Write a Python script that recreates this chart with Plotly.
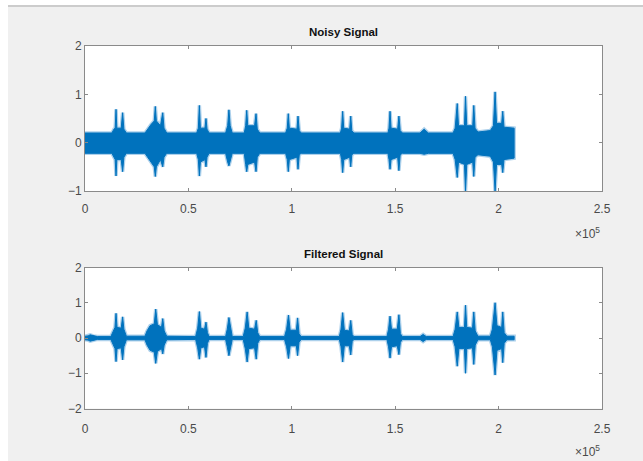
import plotly.graph_objects as go

# ---- data (x in units of 1e5 samples) ----
SCALE = 1e5

noisy_x = [0.000, 0.130, 0.140, 0.146, 0.150, 0.154, 0.175, 0.182, 0.188, 0.200,
           0.290, 0.305, 0.320, 0.335, 0.340, 0.345, 0.365, 0.376, 0.382, 0.395,
           0.540, 0.548, 0.553, 0.558, 0.580, 0.585, 0.590, 0.600,
           0.680, 0.690, 0.696, 0.702, 0.712,
           0.770, 0.777, 0.782, 0.787, 0.820, 0.827, 0.833, 0.845,
           0.970, 0.978, 0.983, 0.988, 1.025, 1.030, 1.036, 1.045,
           1.235, 1.241, 1.246, 1.251, 1.280, 1.285, 1.290, 1.300,
           1.465, 1.470, 1.475, 1.480, 1.512, 1.518, 1.524, 1.535,
           1.620, 1.640, 1.660,
           1.780, 1.790, 1.800, 1.806, 1.835, 1.840, 1.846, 1.875, 1.880, 1.886, 1.900,
           1.960, 1.975, 1.983, 1.990, 2.015, 2.020, 2.026, 2.075]
noisy_hi = [0.20, 0.20, 0.28, 0.30, 0.69, 0.30, 0.30, 0.62, 0.28, 0.20,
            0.20, 0.30, 0.38, 0.45, 0.75, 0.45, 0.35, 0.62, 0.30, 0.20,
            0.20, 0.30, 0.77, 0.30, 0.30, 0.50, 0.28, 0.20,
            0.20, 0.35, 0.68, 0.35, 0.20,
            0.20, 0.35, 0.67, 0.35, 0.35, 0.60, 0.28, 0.20,
            0.20, 0.30, 0.60, 0.30, 0.28, 0.55, 0.25, 0.20,
            0.20, 0.30, 0.65, 0.30, 0.28, 0.55, 0.25, 0.20,
            0.20, 0.30, 0.65, 0.30, 0.28, 0.55, 0.25, 0.20,
            0.20, 0.28, 0.20,
            0.20, 0.30, 0.81, 0.35, 0.35, 0.96, 0.35, 0.35, 0.77, 0.30, 0.22,
            0.25, 0.35, 1.05, 0.40, 0.40, 0.65, 0.32, 0.30]
noisy_lo = [-0.22, -0.22, -0.30, -0.35, -0.69, -0.35, -0.35, -0.60, -0.30, -0.22,
            -0.22, -0.30, -0.40, -0.50, -0.70, -0.50, -0.35, -0.50, -0.30, -0.22,
            -0.22, -0.35, -0.69, -0.40, -0.35, -0.50, -0.30, -0.22,
            -0.22, -0.40, -0.48, -0.40, -0.22,
            -0.22, -0.45, -0.60, -0.45, -0.40, -0.60, -0.30, -0.22,
            -0.22, -0.35, -0.60, -0.35, -0.30, -0.55, -0.25, -0.22,
            -0.22, -0.35, -0.62, -0.35, -0.30, -0.50, -0.25, -0.22,
            -0.22, -0.35, -0.55, -0.35, -0.30, -0.58, -0.25, -0.22,
            -0.22, -0.24, -0.22,
            -0.22, -0.35, -0.72, -0.40, -0.45, -1.00, -0.45, -0.40, -0.70, -0.30, -0.25,
            -0.28, -0.40, -1.00, -0.45, -0.45, -0.62, -0.35, -0.32]

filt_x = [0.000, 0.015, 0.025, 0.040, 0.060, 0.125, 0.135, 0.145, 0.150, 0.155, 0.175, 0.182, 0.188, 0.200,
          0.290, 0.300, 0.315, 0.335, 0.342, 0.350, 0.370, 0.376, 0.383, 0.395,
          0.535, 0.545, 0.553, 0.560, 0.578, 0.585, 0.592, 0.600,
          0.680, 0.688, 0.696, 0.704, 0.712,
          0.765, 0.775, 0.784, 0.792, 0.820, 0.828, 0.835, 0.845,
          0.965, 0.975, 0.984, 0.992, 1.022, 1.028, 1.035, 1.045,
          1.230, 1.238, 1.246, 1.254, 1.278, 1.285, 1.292, 1.300,
          1.460, 1.468, 1.475, 1.482, 1.510, 1.518, 1.525, 1.535,
          1.620, 1.635, 1.650,
          1.780, 1.790, 1.800, 1.808, 1.835, 1.840, 1.846, 1.874, 1.880, 1.887, 1.900,
          1.960, 1.970, 1.983, 1.992, 2.015, 2.020, 2.027, 2.040, 2.075]
filt_hi = [0.05, 0.06, 0.09, 0.06, 0.04, 0.04, 0.15, 0.30, 0.70, 0.30, 0.28, 0.60, 0.25, 0.05,
           0.05, 0.20, 0.35, 0.40, 0.82, 0.38, 0.30, 0.55, 0.20, 0.05,
           0.04, 0.28, 0.75, 0.28, 0.25, 0.45, 0.15, 0.04,
           0.04, 0.25, 0.58, 0.25, 0.04,
           0.04, 0.28, 0.74, 0.28, 0.25, 0.50, 0.15, 0.04,
           0.04, 0.25, 0.65, 0.22, 0.22, 0.57, 0.12, 0.04,
           0.04, 0.25, 0.72, 0.22, 0.20, 0.50, 0.10, 0.04,
           0.04, 0.25, 0.62, 0.25, 0.25, 0.66, 0.12, 0.04,
           0.04, 0.10, 0.04,
           0.04, 0.25, 0.74, 0.30, 0.30, 0.93, 0.30, 0.28, 0.74, 0.20, 0.05,
           0.05, 0.25, 1.00, 0.35, 0.30, 0.74, 0.15, 0.05, 0.05]
filt_lo = [-0.05, -0.06, -0.09, -0.06, -0.04, -0.04, -0.15, -0.30, -0.67, -0.30, -0.28, -0.62, -0.25, -0.05,
           -0.05, -0.20, -0.35, -0.40, -0.72, -0.38, -0.30, -0.45, -0.20, -0.05,
           -0.04, -0.28, -0.60, -0.28, -0.25, -0.55, -0.15, -0.04,
           -0.04, -0.25, -0.50, -0.25, -0.04,
           -0.04, -0.30, -0.68, -0.30, -0.28, -0.60, -0.15, -0.04,
           -0.04, -0.25, -0.58, -0.22, -0.22, -0.50, -0.12, -0.04,
           -0.04, -0.25, -0.68, -0.22, -0.22, -0.48, -0.10, -0.04,
           -0.04, -0.25, -0.57, -0.25, -0.22, -0.47, -0.12, -0.04,
           -0.04, -0.10, -0.04,
           -0.04, -0.25, -0.80, -0.30, -0.30, -1.00, -0.30, -0.28, -0.75, -0.20, -0.05,
           -0.05, -0.25, -1.05, -0.35, -0.30, -0.70, -0.15, -0.05, -0.05]

x_tickvals = [0, 0.5, 1, 1.5, 2, 2.5]
x_ticktext = ["0", "0.5", "1", "1.5", "2", "2.5"]
top_yticks = [-1, 0, 1, 2]
bot_yticks = [-2, -1, 0, 1, 2]
titles = ["Noisy Signal", "Filtered Signal"]

LINE_BLUE = "#0072BD"
HALO = "rgba(70,150,210,0.45)"
W, H = 643, 461


def band(xs, hi, lo):
    px = [v * SCALE for v in xs] + [v * SCALE for v in reversed(xs)]
    py = list(hi) + list(reversed(lo))
    return px, py


def sx(px):   # window pixel -> paper fraction (x)
    return px / W


def sy(py):   # window pixel -> paper fraction (y)
    return 1 - py / H


fig = go.Figure()
for (xs, hi, lo, xa, ya) in ((noisy_x, noisy_hi, noisy_lo, "x", "y"),
                             (filt_x, filt_hi, filt_lo, "x2", "y2")):
    bx, by = band(xs, hi, lo)
    fig.add_trace(go.Scatter(x=bx, y=by, mode="lines", line=dict(color=HALO, width=3.5),
                             xaxis=xa, yaxis=ya, hoverinfo="skip", showlegend=False))
    fig.add_trace(go.Scatter(x=bx, y=by, fill="toself", fillcolor=LINE_BLUE, mode="lines",
                             line=dict(color=LINE_BLUE, width=1), xaxis=xa, yaxis=ya,
                             hoverinfo="skip", showlegend=False))

x_dom = [sx(85), sx(602)]
top_dom = [sy(191), sy(46)]
bot_dom = [sy(408.5), sy(267.5)]

axis_common = dict(showline=True, linecolor="#8a8a8a", linewidth=1, mirror="ticks",
                   ticks="inside", ticklen=3, tickcolor="#8a8a8a", showgrid=False,
                   zeroline=False, automargin=False,
                   tickfont=dict(family="Liberation Sans, Arial", size=12, color="#4a4a4a"))

fig.update_layout(
    width=W, height=H, autosize=False,
    margin=dict(l=0, r=0, t=0, b=0, pad=0),
    paper_bgcolor="#f0f0f0", plot_bgcolor="white",
    xaxis=dict(domain=x_dom, anchor="y", range=[0, 2.5 * SCALE], ticklabelstandoff=7,
               tickvals=[v * SCALE for v in x_tickvals], ticktext=x_ticktext, **axis_common),
    yaxis=dict(domain=top_dom, anchor="x", range=[-1, 2], tickvals=top_yticks, **axis_common),
    xaxis2=dict(domain=x_dom, anchor="y2", range=[0, 2.5 * SCALE], ticklabelstandoff=9,
                tickvals=[v * SCALE for v in x_tickvals], ticktext=x_ticktext, **axis_common),
    yaxis2=dict(domain=bot_dom, anchor="x2", range=[-2, 2], tickvals=bot_yticks, **axis_common),
    showlegend=False,
)

# screenshot frame: white strip on top (with a rule) and on the left
fig.add_shape(type="rect", xref="paper", yref="paper", x0=0, x1=1, y0=sy(5), y1=1,
              fillcolor="white", line_width=0, layer="below")
fig.add_shape(type="rect", xref="paper", yref="paper", x0=0, x1=sx(8), y0=0, y1=1,
              fillcolor="white", line_width=0, layer="below")
fig.add_shape(type="line", xref="paper", yref="paper", x0=sx(8), x1=1, y0=sy(6), y1=sy(6),
              line=dict(color="#cccccc", width=2))

title_font = dict(family="Liberation Sans, Arial", size=11.5, color="#111111")
for dom, t in ((top_dom, titles[0]), (bot_dom, titles[1])):
    fig.add_annotation(text="<b>%s</b>" % t, xref="paper", yref="paper",
                       x=(x_dom[0] + x_dom[1]) / 2, y=dom[1], yanchor="bottom", xanchor="center",
                       yshift=6, showarrow=False, font=title_font)

exp_font = dict(family="Liberation Sans, Arial", size=12, color="#4a4a4a")
for dom in (top_dom, bot_dom):
    fig.add_annotation(text="\u00d710<sup>5</sup>", xref="paper", yref="paper",
                       x=x_dom[1], y=dom[0], xanchor="right", yanchor="top", yshift=-32,
                       showarrow=False, font=exp_font)

fig.write_html("out.html", config={"displayModeBar": False},
               post_script="document.body.style.margin='0';document.body.style.background='#f0f0f0';")
